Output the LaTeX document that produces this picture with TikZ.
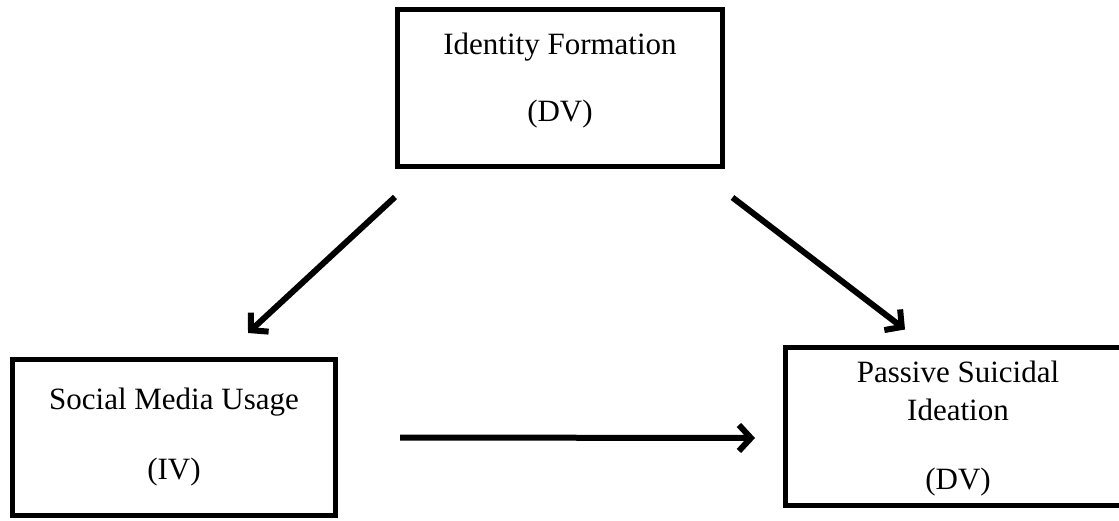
\documentclass[tikz,border=0pt]{standalone}
\usepackage{fontspec}
\setmainfont{Liberation Serif}
\usetikzlibrary{arrows.meta}

\begin{document}
\begin{tikzpicture}[x=1pt, y=-1pt, line width=5pt,
  box/.style = {draw, rectangle, inner sep=0pt, align=center, font=\fontsize{31}{38}\selectfont},
  arr/.style = {line width=6pt, -{Straight Barb[length=12pt,width=26pt]}}]
\useasboundingbox (0,0) rectangle (1119,521);
\clip (0,0) rectangle (1119,521);
\node[box, minimum width=325pt, minimum height=157pt, text depth=21pt] (idf) at (560,88) {Identity Formation\\[29pt](DV)};
\node[box, minimum width=323pt, minimum height=156pt] (smu) at (174,437.5) {Social Media Usage\\[32pt](IV)};
\node[box, minimum width=345pt, minimum height=158pt, text height=132pt] (psi) at (958,426.5) {Passive Suicidal\\Ideation\\[31pt](DV)};
\draw[arr] ([yshift=-28pt]idf.south west) -- ([xshift=74pt, yshift=24pt]smu.north);
\draw[arr] ([xshift=7.5pt, yshift=-28.5pt]idf.south east) -- ([xshift=-53pt, yshift=15.5pt]psi.north);
\draw[arr] ([xshift=62pt]smu.east) -- ([xshift=-28pt, yshift=-11.5pt]psi.west);
\end{tikzpicture}
\end{document}
